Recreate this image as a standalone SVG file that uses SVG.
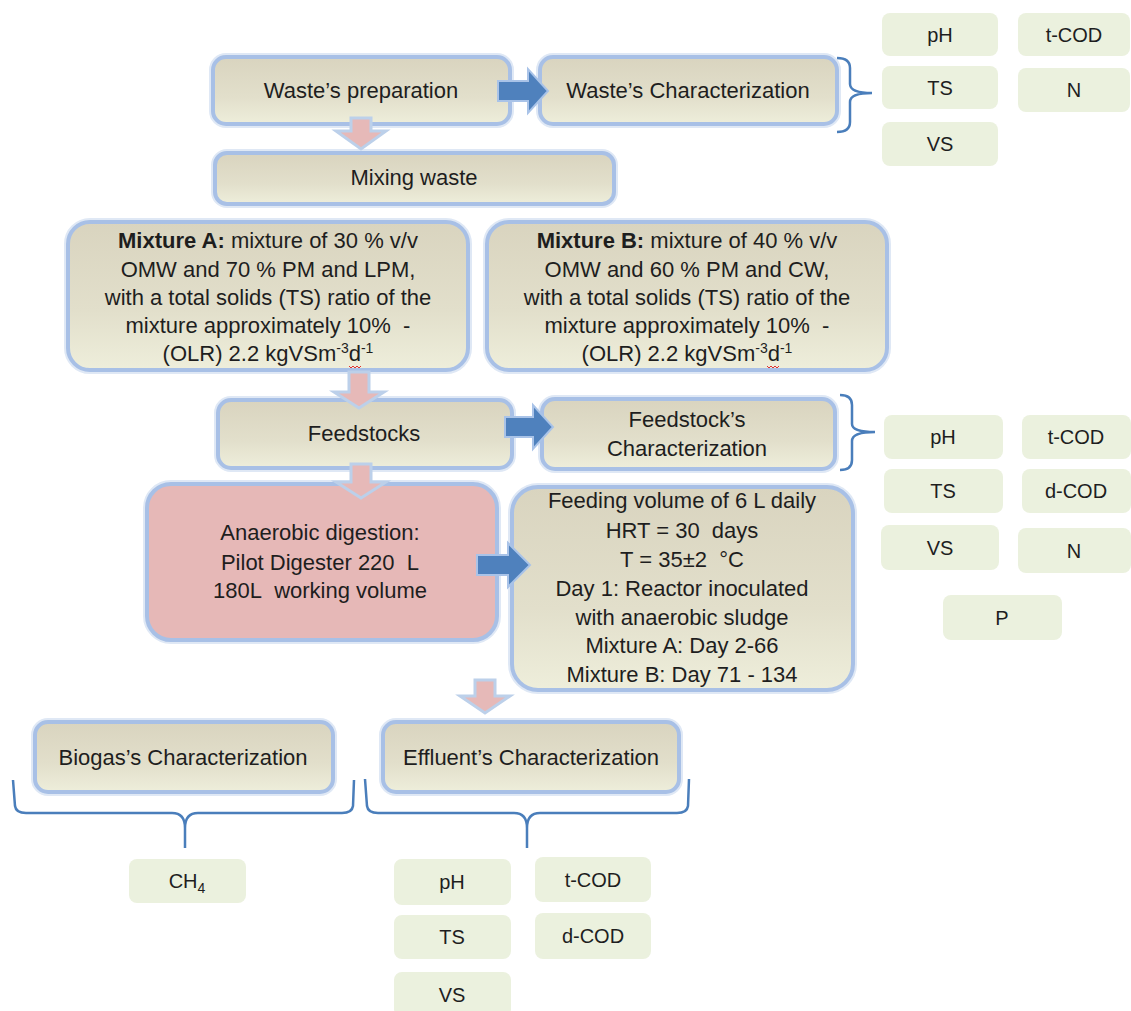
<svg xmlns="http://www.w3.org/2000/svg" width="1131" height="1011" viewBox="0 0 1131 1011">
<defs>
<linearGradient id="beige" x1="0" y1="0" x2="0" y2="1">
<stop offset="0" stop-color="#d9d4bf"/>
<stop offset="0.6" stop-color="#e2dfcb"/>
<stop offset="1" stop-color="#eeeedb"/>
</linearGradient>
<style>
.t{font-family:"Liberation Sans",Arial,sans-serif;font-size:22px;fill:#1e1e1e;text-anchor:middle;}
.p{font-size:20px;}
.sup{font-size:14px;}
.box{fill:url(#beige);stroke:#a8c0e6;stroke-width:4;}
.pink{fill:#e6b8b7;stroke:#a8c0e6;stroke-width:4;}
.glow{fill:none;stroke:#dfe8f5;stroke-width:8;}
.param{fill:#ebf1de;}
.barrow{fill:#4f81bd;stroke:#a9c3e8;stroke-width:2;}
.parrow{fill:#e6b9b8;stroke:#bcd0ea;stroke-width:3;}
.brace{fill:none;stroke:#4a7ebb;stroke-width:2.5;}
.squig{fill:none;stroke:#e03030;stroke-width:1;}
</style>
</defs>
<rect width="1131" height="1011" fill="#ffffff"/>

<g id="waste-preparation">
<rect class="glow" x="213" y="57" width="297" height="67" rx="13"/>
<rect class="box" x="213" y="57" width="297" height="67" rx="13"/>
<text class="t" x="361" y="98">Waste’s preparation</text>
</g>
<g id="waste-characterization">
<rect class="glow" x="540" y="57" width="297" height="67" rx="13"/>
<rect class="box" x="540" y="57" width="297" height="67" rx="13"/>
<text class="t" x="688" y="98">Waste’s Characterization</text>
</g>
<g id="mixing-waste">
<rect class="glow" x="215" y="153" width="399" height="51" rx="12"/>
<rect class="box" x="215" y="153" width="399" height="51" rx="12"/>
<text class="t" x="414" y="185">Mixing waste</text>
</g>
<g id="mixture-a">
<rect class="glow" x="68" y="222" width="400" height="148" rx="22"/>
<rect class="box" x="68" y="222" width="400" height="148" rx="22"/>
<text class="t" x="268" y="248"><tspan font-weight="bold">Mixture A:</tspan> mixture of 30 % v/v</text>
<text class="t" x="268" y="277">OMW and 70 % PM and LPM,</text>
<text class="t" x="268" y="305">with a total solids (TS) ratio of the</text>
<text class="t" x="268" y="333">mixture approximately 10%&#160; -</text>
<text class="t" x="268" y="361">(OLR) 2.2 kgVSm<tspan class="sup" dy="-8">-3</tspan><tspan dy="8">d</tspan><tspan class="sup" dy="-8">-1</tspan></text>
<path class="squig" d="M349,366 l2,2 l2,-2 l2,2 l2,-2 l2,2 l2,-2"/>
</g>
<g id="mixture-b">
<rect class="glow" x="487" y="222" width="400" height="148" rx="22"/>
<rect class="box" x="487" y="222" width="400" height="148" rx="22"/>
<text class="t" x="687" y="248"><tspan font-weight="bold">Mixture B:</tspan> mixture of 40 % v/v</text>
<text class="t" x="687" y="277">OMW and 60 % PM and CW,</text>
<text class="t" x="687" y="305">with a total solids (TS) ratio of the</text>
<text class="t" x="687" y="333">mixture approximately 10%&#160; -</text>
<text class="t" x="687" y="361">(OLR) 2.2 kgVSm<tspan class="sup" dy="-8">-3</tspan><tspan dy="8">d</tspan><tspan class="sup" dy="-8">-1</tspan></text>
<path class="squig" d="M767,366 l2,2 l2,-2 l2,2 l2,-2 l2,2 l2,-2"/>
</g>
<g id="feedstocks">
<rect class="glow" x="218" y="400" width="294" height="68" rx="13"/>
<rect class="box" x="218" y="400" width="294" height="68" rx="13"/>
<text class="t" x="364" y="441">Feedstocks</text>
</g>
<g id="feedstock-characterization">
<rect class="glow" x="542" y="399" width="293" height="70" rx="13"/>
<rect class="box" x="542" y="399" width="293" height="70" rx="13"/>
<text class="t" x="687" y="427">Feedstock’s</text>
<text class="t" x="687" y="456">Characterization</text>
</g>
<g id="anaerobic-digestion">
<rect class="glow" x="147" y="484" width="350" height="156" rx="24"/>
<rect class="pink" x="147" y="484" width="350" height="156" rx="24"/>
<text class="t" x="320" y="540">Anaerobic digestion:</text>
<text class="t" x="320" y="570">Pilot Digester 220&#160; L</text>
<text class="t" x="320" y="598">180L&#160; working volume</text>
</g>
<g id="feeding-conditions">
<rect class="glow" x="512" y="487" width="341" height="203" rx="26"/>
<rect class="box" x="512" y="487" width="341" height="203" rx="26"/>
<text class="t" x="682" y="508">Feeding volume of 6 L daily</text>
<text class="t" x="682" y="538">HRT = 30&#160; days</text>
<text class="t" x="682" y="567">T = 35±2&#160; °C</text>
<text class="t" x="682" y="596">Day 1: Reactor inoculated</text>
<text class="t" x="682" y="625">with anaerobic sludge</text>
<text class="t" x="682" y="653">Mixture A: Day 2-66</text>
<text class="t" x="682" y="682">Mixture B: Day 71 - 134</text>
</g>
<g id="biogas-characterization">
<rect class="glow" x="35" y="722" width="298" height="70" rx="13"/>
<rect class="box" x="35" y="722" width="298" height="70" rx="13"/>
<text class="t" x="183" y="765">Biogas’s Characterization</text>
</g>
<g id="effluent-characterization">
<rect class="glow" x="383" y="722" width="296" height="70" rx="13"/>
<rect class="box" x="383" y="722" width="296" height="70" rx="13"/>
<text class="t" x="531" y="765">Effluent’s Characterization</text>
</g>

<g id="params-waste">
<rect class="param" x="882" y="13" width="116" height="43" rx="8"/><text class="t p" x="940" y="42">pH</text>
<rect class="param" x="1018" y="13" width="112" height="43" rx="8"/><text class="t p" x="1074" y="42">t-COD</text>
<rect class="param" x="882" y="66" width="116" height="43" rx="8"/><text class="t p" x="940" y="95">TS</text>
<rect class="param" x="1018" y="68" width="112" height="44" rx="8"/><text class="t p" x="1074" y="97">N</text>
<rect class="param" x="882" y="122" width="116" height="44" rx="8"/><text class="t p" x="940" y="151">VS</text>
</g>
<g id="params-feedstock">
<rect class="param" x="884" y="415" width="119" height="44" rx="8"/><text class="t p" x="943" y="444">pH</text>
<rect class="param" x="1022" y="415" width="109" height="44" rx="8"/><text class="t p" x="1076" y="444">t-COD</text>
<rect class="param" x="884" y="469" width="119" height="44" rx="8"/><text class="t p" x="943" y="498">TS</text>
<rect class="param" x="1022" y="469" width="109" height="44" rx="8"/><text class="t p" x="1076" y="498">d-COD</text>
<rect class="param" x="881" y="525" width="118" height="45" rx="8"/><text class="t p" x="940" y="555">VS</text>
<rect class="param" x="1018" y="528" width="113" height="45" rx="8"/><text class="t p" x="1074" y="558">N</text>
<rect class="param" x="943" y="595" width="119" height="45" rx="8"/><text class="t p" x="1002" y="625">P</text>
</g>
<g id="params-biogas">
<rect class="param" x="129" y="859" width="117" height="44" rx="8"/><text class="t p" x="187" y="888">CH<tspan font-size="14" dy="5">4</tspan></text>
</g>
<g id="params-effluent">
<rect class="param" x="394" y="859" width="117" height="46" rx="8"/><text class="t p" x="452" y="889">pH</text>
<rect class="param" x="535" y="857" width="116" height="45" rx="8"/><text class="t p" x="593" y="887">t-COD</text>
<rect class="param" x="394" y="915" width="117" height="44" rx="8"/><text class="t p" x="452" y="944">TS</text>
<rect class="param" x="535" y="913" width="116" height="46" rx="8"/><text class="t p" x="593" y="943">d-COD</text>
<rect class="param" x="394" y="972" width="117" height="45" rx="8"/><text class="t p" x="452" y="1002">VS</text>
</g>

<g id="connectors">
<path class="parrow" d="M351,118 H371 V131 H386 L361,149 L336,131 H351 Z"/>
<path class="parrow" d="M349,372 H369 V392 H384 L359,408 L334,392 H349 Z"/>
<path class="parrow" d="M351,464 H371 V482 H386 L361,498 L336,482 H351 Z"/>
<path class="parrow" d="M475,680 H495 V696 H510 L485,713 L460,696 H475 Z"/>
<path class="barrow" d="M498,81 H528 V69 L548,91 L528,113 V101 H498 Z"/>
<path class="barrow" d="M505,417 H533 V405 L553,427 L533,449 V437 H505 Z"/>
<path class="barrow" d="M477,555 H508 V543 L530,565 L508,587 V575 H477 Z"/>
<path class="brace" d="M837,58 Q850,58 850,68 V84 Q850,93 872,93 Q850,93 850,102 V122 Q850,132 837,132"/>
<path class="brace" d="M840,395 Q852,395 852,405 V424 Q852,432 875,432 Q852,432 852,441 V460 Q852,470 840,470"/>
<path class="brace" d="M13,780 L15,806 Q16,813 26,813 H172 Q185,813 185,828 V848 M185,828 Q185,813 198,813 H342 Q352,813 353,806 L354,780"/>
<path class="brace" d="M365,779 L367,806 Q368,813 378,813 H514 Q527,813 527,828 V848 M527,828 Q527,813 540,813 H677 Q687,813 688,806 L689,779"/>
</g>
</svg>
